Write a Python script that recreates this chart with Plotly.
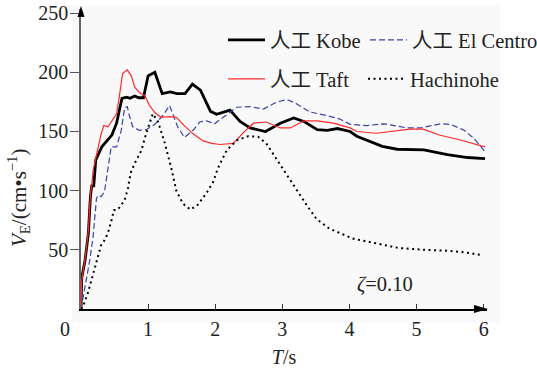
import plotly.graph_objects as go

# ---------------- data ----------------
kobe_T = [0, 0.01, 0.06, 0.11, 0.14, 0.16, 0.19, 0.22, 0.31, 0.40, 0.46, 0.53, 0.61, 0.68, 0.73, 0.80,
          0.86, 0.93, 1.00, 1.10, 1.21, 1.33, 1.43, 1.55, 1.66, 1.78, 1.93, 2.02, 2.22, 2.37, 2.52,
          2.75, 2.97, 3.17, 3.32, 3.52, 3.67, 3.82, 4.01, 4.11, 4.49, 4.71, 5.11, 5.46, 5.76, 6.02]
kobe_V = [0, 26, 41, 64, 95, 104, 104, 126, 137, 143, 147, 157, 178, 179, 178, 180,
          178.5, 178.5, 197, 200, 182, 183.5, 182, 182, 190, 185, 167, 164.5, 168, 158.5, 153,
          150, 157, 161.5, 158.5, 151.5, 151, 152.5, 150, 146, 137.5, 135, 134.5, 130.5, 128, 127]

taft_T = [0, 0.01, 0.06, 0.11, 0.14, 0.16, 0.18, 0.23, 0.30, 0.34, 0.40, 0.45, 0.53, 0.57, 0.62, 0.69,
          0.75, 0.80, 0.87, 0.95, 1.02, 1.10, 1.19, 1.32, 1.42, 1.54, 1.67, 1.82, 1.95, 2.07, 2.27,
          2.42, 2.57, 2.76, 2.97, 3.12, 3.32, 3.52, 3.76, 4.01, 4.11, 4.40, 4.65, 4.90, 5.10, 5.34,
          5.64, 6.02]
taft_V = [0, 24, 42, 66, 97, 104, 117, 131, 148, 155, 154, 158, 165, 179, 199, 202,
          197, 187.5, 183, 180.5, 172, 166, 162, 162.5, 162, 155, 148, 142, 140, 139, 140,
          149, 157, 158, 153, 153, 159, 159, 157, 153, 150, 148.5, 150, 152, 152, 147,
          143, 137]

elc_T = [0, 0.06, 0.13, 0.18, 0.23, 0.25, 0.30, 0.35, 0.40, 0.45, 0.53, 0.60, 0.65, 0.69, 0.72, 0.77,
         0.87, 0.97, 1.10, 1.22, 1.32, 1.44, 1.54, 1.67, 1.77, 1.87, 1.99, 2.12, 2.32, 2.52, 2.72,
         2.92, 3.07, 3.21, 3.41, 3.66, 3.86, 4.01, 4.26, 4.51, 4.86, 5.06, 5.36, 5.51, 5.71, 5.86,
         6.02]
elc_V = [0, 19, 41, 61, 93, 96, 95, 99, 117, 137, 137, 151, 170, 171, 163.5, 154,
         151, 151.5, 156, 163.5, 172, 154, 145, 151, 158, 159, 156.5, 162, 170.5, 171, 169,
         175, 177, 173.5, 166.5, 163.5, 160.5, 156, 155, 156.5, 153, 153, 156.5, 156, 151, 144,
         133]

hachi_T = [0, 0.03, 0.10, 0.18, 0.25, 0.30, 0.35, 0.40, 0.45, 0.49, 0.55, 0.65, 0.70, 0.74, 0.80,
           0.90, 0.97, 1.07, 1.15, 1.25, 1.35, 1.42, 1.52, 1.63, 1.74, 1.87, 1.97, 2.04, 2.17,
           2.32, 2.49, 2.64, 2.76, 2.91, 3.06, 3.21, 3.36, 3.51, 3.70, 4.05, 4.39, 4.74, 5.14,
           5.44, 5.74, 5.97]
hachi_V = [0, 2, 13, 30, 43, 54, 58, 64, 74, 83.5, 84, 92, 102, 115, 123,
           134, 148, 165, 158, 140, 118, 100, 89, 84, 88, 98, 107.5, 119, 134,
           142.5, 146, 145.5, 140, 127, 114.5, 100.5, 88, 76, 68, 59.5, 55.5, 51.5, 50,
           49.3, 47.7, 45.5]

x_ticks = [1, 2, 3, 4, 5, 6]
y_ticks = [50, 100, 150, 200, 250]

FONT = "Liberation Serif, Times New Roman, Noto Sans CJK SC, serif"
TXT = "#222"

fig = go.Figure()
fig.add_trace(go.Scatter(x=kobe_T, y=kobe_V, mode="lines", name="人工 Kobe",
                         line=dict(color="black", width=2.8), legend="legend"))
fig.add_trace(go.Scatter(x=elc_T, y=elc_V, mode="lines", name="人工 El Centro",
                         line=dict(color="#3a44a8", width=1.2, dash="6px,3px"), legend="legend2"))
fig.add_trace(go.Scatter(x=taft_T, y=taft_V, mode="lines", name="人工 Taft",
                         line=dict(color="#ff2a2a", width=1.2), legend="legend3"))
fig.add_trace(go.Scatter(x=hachi_T, y=hachi_V, mode="lines", name="Hachinohe",
                         line=dict(color="black", width=2, dash="2px,3.5px"), legend="legend4"))


def leg(px_left, px_y):
    return dict(orientation="h", xanchor="left", yanchor="middle",
                x=(px_left - 81) / 406, y=(309 - px_y) / 300, itemwidth=37, visible=True,
                font=dict(family=FONT, size=20.5, color=TXT),
                bgcolor="rgba(0,0,0,0)", itemclick=False, itemdoubleclick=False)


fig.update_layout(
    width=537, height=368,
    margin=dict(l=81, r=50, t=9, b=59, autoexpand=False),
    showlegend=True,
    paper_bgcolor="white", plot_bgcolor="rgba(0,0,0,0)",
    font=dict(family=FONT, size=20, color=TXT),
    legend=leg(223, 40),
    legend2=leg(365, 40),
    legend3=leg(223, 79),
    legend4=leg(363, 79),
    xaxis=dict(range=[0, 6.05], tickvals=x_ticks, ticks="inside", ticklen=5, tickwidth=1,
               tickcolor="#333", showline=True, linecolor="black", linewidth=1.5,
               showgrid=False, zeroline=False, ticklabelstandoff=1,
               tickfont=dict(family=FONT, size=20, color=TXT),
               title=dict(text="<i>T</i>/s", font=dict(family=FONT, size=20, color=TXT),
                          standoff=15)),
    yaxis=dict(range=[0, 253.5], tickvals=y_ticks, ticks="outside", ticklen=9, tickwidth=1,
               tickcolor="#555", showline=True, linecolor="#666", linewidth=1.5,
               showgrid=False, zeroline=False, ticklabelstandoff=-2,
               tickfont=dict(family=FONT, size=20, color=TXT)),
    shapes=[
        # light background panel
        dict(type="rect", xref="paper", yref="paper", x0=-9 / 406, x1=419 / 406,
             y0=-14 / 300, y1=304 / 300, fillcolor="#f9f9f9", line=dict(width=0), layer="below"),
        # x-axis arrow
        dict(type="path", xref="x domain", yref="y domain", xsizemode="pixel", ysizemode="pixel",
             xanchor=1, yanchor=0, path="M1,0 L-13,4 L-13,-4 Z", fillcolor="black",
             line=dict(width=0)),
        # y-axis arrow
        dict(type="path", xref="x domain", yref="y domain", xsizemode="pixel", ysizemode="pixel",
             xanchor=0, yanchor=1, path="M0,3 L-3.5,-8 L3.5,-8 Z", fillcolor="black",
             line=dict(width=0)),
    ],
    annotations=[
        dict(x=0, y=0, xref="x", yref="y", text="0", showarrow=False, xshift=-16, yshift=-20,
             font=dict(family=FONT, size=20, color=TXT)),
        dict(x=4.53, y=20.5, xref="x", yref="y", text="<i>ζ</i>=0.10", showarrow=False,
             font=dict(family=FONT, size=20.5, color=TXT)),
        dict(x=(18 - 81) / 406, y=(309 - 198) / 300, xref="paper", yref="paper",
             xanchor="center", yanchor="middle",
             text="<i>V</i><sub>E</sub>/(cm•s<sup>−1</sup>)", textangle=-90, showarrow=False,
             font=dict(family=FONT, size=21, color=TXT)),
    ],
)

fig.write_html("out.html")
